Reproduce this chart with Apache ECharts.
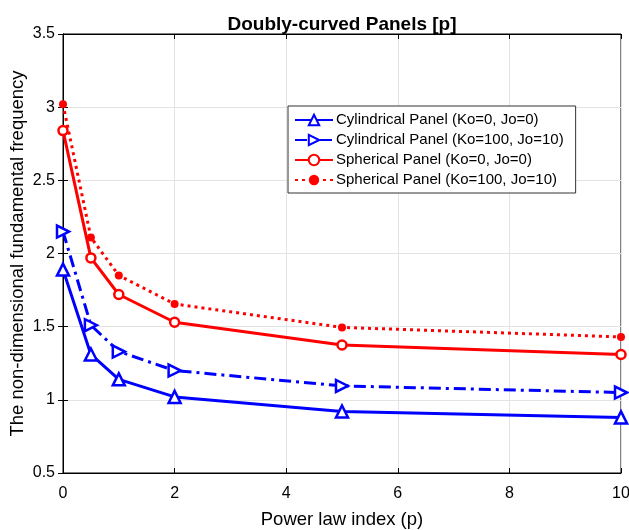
<!DOCTYPE html>
<html>
<head>
<meta charset="utf-8">
<script src="https://cdn.jsdelivr.net/npm/echarts@6/dist/echarts.min.js"></script>
<style>
  html, body { margin: 0; padding: 0; background: #fff; }
  #chart { width: 629px; height: 530px; }
</style>
</head>
<body>
<div id="chart"></div>
<script>
// Power law index values
const powerIndex = [0, 0.5, 1, 2, 5, 10];

// Non-dimensional fundamental frequency for each panel type
const cylNoFoundation = [1.89, 1.31, 1.14, 1.02, 0.92, 0.88];
const cylFoundation   = [2.15, 1.51, 1.33, 1.20, 1.095, 1.05];
const sphNoFoundation = [2.84, 1.97, 1.72, 1.53, 1.375, 1.31];
const sphFoundation   = [3.02, 2.11, 1.85, 1.655, 1.495, 1.43];

const seriesNames = [
  'Cylindrical Panel (Ko=0, Jo=0)',
  'Cylindrical Panel (Ko=100, Jo=10)',
  'Spherical Panel (Ko=0, Jo=0)',
  'Spherical Panel (Ko=100, Jo=10)'
];

const FONT = 'Liberation Sans, Arial, sans-serif';
const BLUE = '#0000ff';
const RED = '#ff0000';

function pairs(ys) {
  return powerIndex.map((x, i) => [x, ys[i]]);
}

const chart = echarts.init(document.getElementById('chart'), null, { renderer: 'canvas' });

const gridLine = { show: true, lineStyle: { color: '#e3e3e3', width: 1 } };
const innerTick = { show: true, inside: true, length: 5, lineStyle: { color: '#000' } };

chart.setOption({
  animation: false,
  backgroundColor: '#fff',
  textStyle: { fontFamily: FONT },
  title: {
    text: 'Doubly-curved Panels [p]',
    left: 337,
    top: 10,
    textAlign: 'center',
    textStyle: { fontFamily: FONT, fontSize: 19, fontWeight: 'bold', color: '#000' }
  },
  legend: {
    orient: 'vertical',
    left: 288,
    top: 106,
    padding: [6, 12, 5, 6],
    itemWidth: 38,
    itemHeight: 13,
    itemGap: 4,
    backgroundColor: '#fff',
    borderColor: '#333',
    borderWidth: 1,
    borderRadius: 0,
    textStyle: { fontFamily: FONT, fontSize: 15, color: '#000', lineHeight: 16, padding: [0, 0, 0, -2] },
    data: seriesNames
  },
  grid: {
    left: 63,
    right: 8,
    top: 34,
    bottom: 57,
    outerBoundsMode: 'none',
    containLabel: false,
    show: true,
    borderColor: '#000',
    borderWidth: 1,
    backgroundColor: '#fff'
  },
  xAxis: [{
    type: 'value',
    min: 0,
    max: 10,
    interval: 2,
    name: 'Power law index (p)',
    nameLocation: 'middle',
    nameGap: 37,
    nameMoveOverlap: false,
    nameTextStyle: { fontFamily: FONT, fontSize: 18.5, color: '#000' },
    axisLine: { show: true, onZero: false, lineStyle: { color: '#000', width: 1 } },
    axisTick: innerTick,
    axisLabel: { fontFamily: FONT, fontSize: 16, color: '#000', margin: 13 },
    splitLine: gridLine
  }, {
    type: 'value',
    position: 'top',
    min: 0,
    max: 10,
    interval: 2,
    axisLine: { show: true, lineStyle: { color: '#000', width: 1 } },
    axisTick: innerTick,
    axisLabel: { show: false },
    splitLine: { show: false }
  }],
  yAxis: [{
    type: 'value',
    min: 0.5,
    max: 3.5,
    interval: 0.5,
    name: 'The non-dimensional fundamental frequency',
    nameLocation: 'middle',
    nameGap: 36,
    nameMoveOverlap: false,
    nameTextStyle: { fontFamily: FONT, fontSize: 18.5, color: '#000' },
    axisLine: { show: true, onZero: false, lineStyle: { color: '#000', width: 1 } },
    axisTick: innerTick,
    axisLabel: { fontFamily: FONT, fontSize: 16, color: '#000', margin: 8 },
    splitLine: gridLine
  }, {
    type: 'value',
    position: 'right',
    min: 0.5,
    max: 3.5,
    interval: 0.5,
    axisLine: { show: true, lineStyle: { color: '#000', width: 1 } },
    axisTick: innerTick,
    axisLabel: { show: false },
    splitLine: { show: false }
  }],
  series: [
    {
      name: seriesNames[0],
      type: 'line',
      data: pairs(cylNoFoundation),
      symbol: 'triangle',
      symbolSize: 12,
      lineStyle: { color: BLUE, width: 3 },
      itemStyle: { color: '#fff', borderColor: BLUE, borderWidth: 2.5 },
      z: 4
    },
    {
      name: seriesNames[1],
      type: 'line',
      data: pairs(cylFoundation),
      symbol: 'triangle',
      symbolRotate: -90,
      symbolSize: 12,
      lineStyle: { color: BLUE, width: 3, type: [12, 5, 3, 5] },
      itemStyle: { color: '#fff', borderColor: BLUE, borderWidth: 2.5 },
      z: 4
    },
    {
      name: seriesNames[2],
      type: 'line',
      data: pairs(sphNoFoundation),
      symbol: 'circle',
      symbolSize: 9,
      lineStyle: { color: RED, width: 3 },
      itemStyle: { color: '#fff', borderColor: RED, borderWidth: 2.5 },
      z: 4
    },
    {
      name: seriesNames[3],
      type: 'line',
      data: pairs(sphFoundation),
      symbol: 'circle',
      symbolSize: 8,
      lineStyle: { color: RED, width: 3, type: [3, 4] },
      itemStyle: { color: RED, borderColor: RED, borderWidth: 0 },
      z: 4
    }
  ]
});
</script>
</body>
</html>
